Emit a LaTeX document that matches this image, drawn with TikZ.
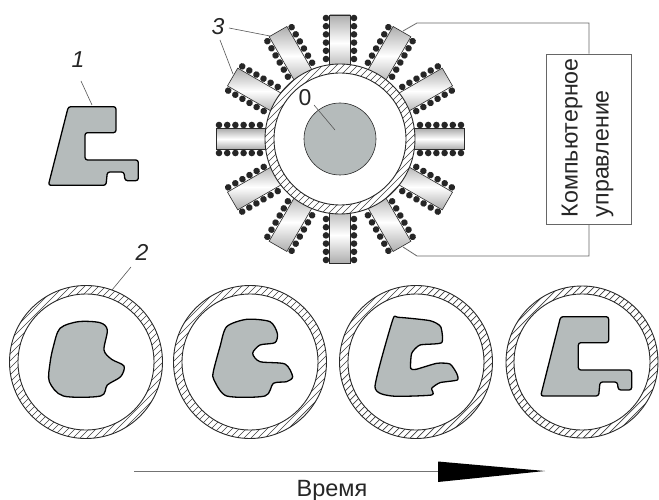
\documentclass[tikz,border=0pt]{standalone}
\usepackage{fontspec}
\setmainfont{Liberation Sans}
\usetikzlibrary{calc}
\definecolor{partgray}{HTML}{B5BBBB}
\definecolor{edge}{HTML}{2A2A2A}
\definecolor{leader}{HTML}{555555}
\tikzset{
  part/.style={draw=black,fill=partgray,line width=1.3pt,line join=round},
  cylbody/.style={draw=edge,line width=0.6pt,rectangle,minimum width=56pt,minimum height=20.5pt,inner sep=0pt,
    top color=black!32,bottom color=black!32,middle color=white},
  coil/.style={fill=black!85},
  leaderline/.style={draw=leader,line width=0.6pt},
  wire/.style={draw=black!60,line width=0.8pt},
  numlabel/.style={font=\fontsize{23}{23}\selectfont\itshape,inner sep=0pt,text=black!85},
  sectiontext/.style={text=black!85}
}
\newcommand{\hatchring}[4]{%
  \begin{scope}[shift={(#1,#2)}]
    \fill[white] (0,0) circle (#3pt);
    \begin{scope}[even odd rule]
      \clip (0,0) circle (#3pt) (0,0) circle (#4pt);
      \foreach \d in {-168,-161,...,168}
        \draw[black!75,line width=0.7pt] ({\d-90},90) -- ({\d+90},-90);
    \end{scope}
    \draw[edge,line width=0.9pt] (0,0) circle (#3pt) (0,0) circle (#4pt);
  \end{scope}}
\begin{document}
\begin{tikzpicture}[x=1pt,y=-1pt]
\useasboundingbox (0,0) rectangle (659,500);
\fill[white] (0,0) rectangle (659,500);
% wheel
\begin{scope}[shift={(340,139)}]
  \foreach \a in {0,30,...,330}{
    \begin{scope}[rotate=-\a,transform shape]
      \node[cylbody] (cyl\a) at (96,0) {};
      \foreach \r in {80,88.2,96.4,104.6,112.8,121}{
        \fill[coil] (\r,14) circle (3.3pt);
        \fill[coil] (\r,-14) circle (3.3pt);
      }
    \end{scope}
  }
\end{scope}
\hatchring{340}{139}{75}{66}
\node[circle,draw=edge,line width=0.6pt,fill=partgray,minimum size=72pt,inner sep=0pt] (core) at (340,139) {};
% lower rings
\hatchring{86}{362}{76.5}{68}
\hatchring{250}{362}{76.5}{68}
\hatchring{416}{362}{76.5}{68}
\hatchring{582}{362}{76}{68}
% part 1
\begin{scope}[shift={(0,40)},scale=1/3]
  \draw[part,rounded corners=2.5pt] (205,200) -- (348,200) -- (348,278) -- (255,278) -- (255,360) -- (415,360) -- (415,422) -- (375,422) -- (372,396) -- (322,396) -- (318,436) -- (145,436) -- cycle;
\end{scope}
% stages
\begin{scope}[shift={(0,240)},scale=1/3]
  \draw[part] plot[smooth cycle,tension=0.5] coordinates {(180,265) (235,245) (300,248) (322,270) (312,330) (335,358) (372,378) (362,410) (322,435) (302,468) (190,468) (148,425) (150,370) (160,320)};
  \draw[part] plot[smooth cycle,tension=0.45] coordinates {(680,260) (740,238) (810,245) (832,280) (825,308) (780,315) (758,340) (780,365) (855,372) (878,410) (860,425) (820,430) (795,468) (680,468) (642,420) (640,395) (660,320)};
\end{scope}
\begin{scope}[shift={(330,260)},scale=1/3]
  \draw[part] plot[smooth cycle,tension=0.35] coordinates {(188,180) (205,172) (300,182) (332,200) (335,248) (270,255) (245,280) (242,325) (258,328) (320,310) (360,312) (380,340) (382,360) (330,368) (305,385) (305,405) (185,408) (135,380)};
  \draw[part,rounded corners=2.5pt] (692,170) -- (836,170) -- (836,248) -- (745,248) -- (745,330) -- (905,330) -- (905,390) -- (865,390) -- (862,366) -- (810,366) -- (806,408) -- (632,408) -- cycle;
\end{scope}
% labels and leaders
\node[numlabel] (lab1) at (78,60) {1};
\node[numlabel] (lab2) at (142,252) {2};
\node[numlabel] (lab3) at (218,27) {3};
\node[numlabel,font=\fontsize{23}{23}\selectfont] (lab0) at (305,98) {0};
\coordinate (l1a) at (81,81); \coordinate (l1b) at (92,105);
\coordinate (l2a) at (131,267); \coordinate (l2b) at (112,290);
\coordinate (l3a) at (229,28); \coordinate (l3b) at (270,36);
\coordinate (l3c) at (220,40); \coordinate (l3d) at (233,74);
\coordinate (l0a) at (314,105); \coordinate (l0b) at (335,130);
\draw[leaderline] (l1a) -- (l1b);
\draw[leaderline] (l2a) -- (l2b);
\draw[leaderline] (l3a) -- (l3b);
\draw[leaderline] (l3c) -- (l3d);
\draw[leaderline] (l0a) -- (l0b);
% control box
\node[draw=black!60,line width=0.8pt,rotate=90,minimum width=170pt,minimum height=85pt,inner sep=0pt] (box) at (588.5,139) {};
\node[rotate=90,align=left,text width=159pt,inner sep=0pt,sectiontext,font=\fontsize{23.2}{31}\selectfont] (boxtext) at (587.5,137.5) {Компьютерное\\управление};
\coordinate (wt0) at (403,31); \coordinate (wt1) at (417,23); \coordinate (wt2) at (589,23);
\coordinate (wb0) at (403,247); \coordinate (wb1) at (417,256); \coordinate (wb2) at (589,256);
\draw[wire] (wt0) -- (wt1) -- (wt2) -- (wt2 |- box.east);
\draw[wire] (wb0) -- (wb1) -- (wb2) -- (wb2 |- box.west);
% time arrow
\coordinate (ts) at (134,471); \coordinate (te) at (438,471); \coordinate (tip) at (545,471);
\draw[black!55,line width=0.8pt] (ts) -- (te);
\fill[black] (438,461.5) -- (tip) -- (438,482) -- cycle;
\node[sectiontext,inner sep=0pt,anchor=base,font=\fontsize{23.5}{24}\selectfont] (timelab) at (332,496) {Время};
\end{tikzpicture}
\end{document}
